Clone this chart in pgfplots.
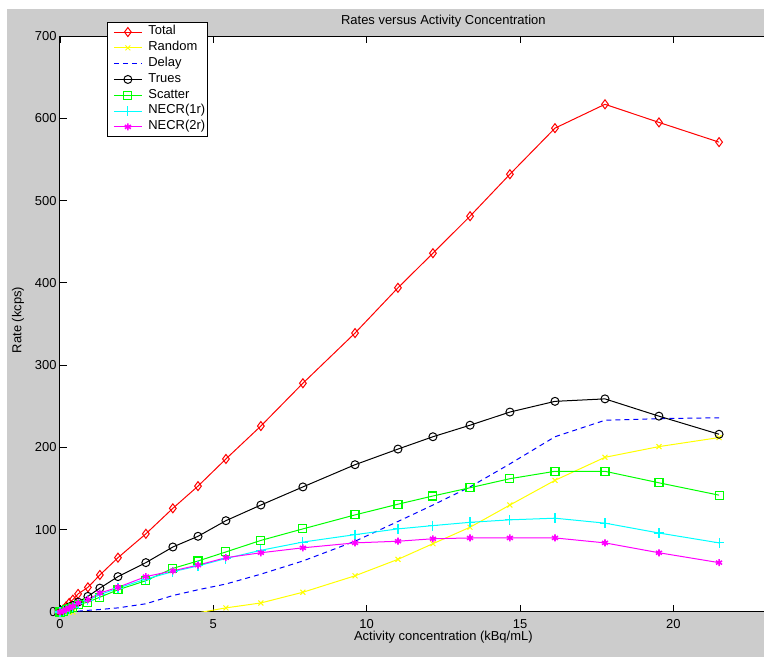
\documentclass[border=0pt]{standalone}
\usepackage{pgfplots}
\pgfplotsset{compat=1.18}
\usepackage{fontspec}
\setmainfont{Liberation Sans}
\definecolor{figgray}{RGB}{204,204,204}
\definecolor{mred}{RGB}{255,0,0}
\definecolor{myellow}{RGB}{255,255,0}
\definecolor{mblue}{RGB}{0,0,255}
\definecolor{mgreen}{RGB}{0,255,0}
\definecolor{mcyan}{RGB}{0,255,255}
\definecolor{mmagenta}{RGB}{255,0,255}
\begin{document}
\begin{tikzpicture}
\fill[white] (0bp,0bp) rectangle (764bp,657bp);
\fill[figgray] (7bp,0bp) rectangle (764bp,648bp);
\begin{axis}[
  at={(60bp,45bp)}, anchor=south west,
  scale only axis, width=766.7bp, height=576bp,
  xmin=0, xmax=25, ymin=0, ymax=700,
  xtick={0,5,10,15,20}, ytick={0,100,200,300,400,500,600,700},
  extra x ticks={25}, extra x tick labels={},
  tick align=inside, major tick length=7bp,
  every tick/.style={black, line width=0.8bp},
  axis line style={line width=1bp},
  axis background/.style={fill=white},
  /pgf/number format/assume math mode=true,
  tick label style={font=\fontsize{13}{15}\selectfont},
  xticklabel style={yshift=-4bp},
  title={Rates versus Activity Concentration},
  title style={at={(axis description cs:0.5,1)}, anchor=base, yshift=6bp, font=\fontsize{13}{15}\selectfont},
  xlabel={Activity concentration (kBq/mL)},
  xlabel style={at={(axis description cs:0.5,-0.0445)}, anchor=center, font=\fontsize{13}{15}\selectfont},
  ylabel={Rate (kcps)},
  ylabel style={at={(axis description cs:-0.0548,0.507)}, anchor=center, font=\fontsize{13}{15}\selectfont},
  legend cell align=left,
  legend image code/.code={\path[draw=none] (-5.5bp,0bp) -- (33bp,0bp);\draw[mark repeat=2,mark phase=2,line width=1.1bp,#1] plot coordinates {(0bp,0bp) (14bp,0bp) (28bp,0bp)};},
  legend style={at={(axis description cs:0.0613,1.0243)}, anchor=north west,
    font=\fontsize{13}{14}\selectfont, draw=black, line width=0.8bp, fill=white,
    inner xsep=1bp, inner ysep=2bp, row sep=0.5bp,
    nodes={inner sep=1.5bp, text height=9bp, text depth=3.3bp}},
  every axis plot/.append style={line width=1bp},
]
\addplot[color=mred, mark=diamond, mark size=4.5bp, mark options={solid, line width=1bp}] table {
x y
0 0
0.1 3
0.2 7
0.3 11
0.42 15
0.59 22
0.91 30
1.30 45
1.89 66
2.80 95
3.68 126
4.50 153
5.41 186
6.55 226
7.92 278
9.62 339
11.02 394
12.16 436
13.37 481
14.67 532
16.14 588
17.77 617
19.53 595
21.49 571
};
\addlegendentry{Total}
\addplot[color=myellow, mark=x, mark size=3.5bp, mark options={solid, line width=1bp}] table {
x y
0 0
0.1 0
0.2 0
0.3 0
0.42 0
0.59 -3
0.91 -8
1.30 -12
1.89 -15
2.80 -15
3.68 -10
4.50 -1
5.41 5
6.55 11
7.92 24
9.62 44
11.02 64
12.16 83
13.37 103
14.67 130
16.14 160
17.77 188
19.53 201
21.49 212
};
\addlegendentry{Random}
\addplot[color=mblue, dash pattern=on 5bp off 4bp] table {
x y
0 0
0.1 0
0.2 0
0.3 0
0.42 1
0.59 1
0.91 2
1.30 3
1.89 5
2.80 10
3.68 20
4.50 27
5.41 34
6.55 46
7.92 62
9.62 86
11.02 110
12.16 130
13.37 152
14.67 180
16.14 213
17.77 233
19.53 235
21.49 236
};
\addlegendentry{Delay}
\addplot[color=black, mark=o, mark size=4bp, mark options={solid, line width=1bp}] table {
x y
0 0
0.1 2
0.2 4
0.3 6
0.42 8
0.59 12
0.91 19
1.30 29
1.89 43
2.80 60
3.68 79
4.50 92
5.41 111
6.55 130
7.92 152
9.62 179
11.02 198
12.16 213
13.37 227
14.67 243
16.14 256
17.77 259
19.53 238
21.49 216
};
\addlegendentry{Trues}
\addplot[color=mgreen, mark=square, mark size=4bp, mark options={solid, line width=1.1bp}] table {
x y
0 0
0.1 1
0.2 3
0.3 4
0.42 6
0.59 9
0.91 12
1.30 18
1.89 27
2.80 38
3.68 53
4.50 62
5.41 73
6.55 87
7.92 101
9.62 118
11.02 131
12.16 141
13.37 151
14.67 162
16.14 171
17.77 171
19.53 157
21.49 142
};
\addlegendentry{Scatter}
\addplot[color=mcyan, mark=+, mark size=5bp, mark options={solid, line width=1.1bp}] table {
x y
0 0
0.1 1
0.2 3
0.3 4
0.42 6
0.59 10
0.91 14
1.30 21
1.89 29
2.80 40
3.68 49
4.50 56
5.41 65
6.55 75
7.92 85
9.62 94
11.02 101
12.16 105
13.37 109
14.67 112
16.14 114
17.77 108
19.53 96
21.49 84
};
\addlegendentry{NECR(1r)}
\addplot[color=mmagenta, mark=asterisk, mark size=3.5bp, mark options={solid, line width=1.6bp}] table {
x y
0 0
0.1 1
0.2 3
0.3 5
0.42 7
0.59 11
0.91 15
1.30 23
1.89 30
2.80 43
3.68 50
4.50 57
5.41 66
6.55 72
7.92 78
9.62 84
11.02 86
12.16 89
13.37 90
14.67 90
16.14 90
17.77 84
19.53 72
21.49 60
};
\addlegendentry{NECR(2r)\hspace{8bp}}
\end{axis}
\pgfresetboundingbox
\useasboundingbox (0bp,0bp) rectangle (764bp,657bp);
\end{tikzpicture}
\end{document}
